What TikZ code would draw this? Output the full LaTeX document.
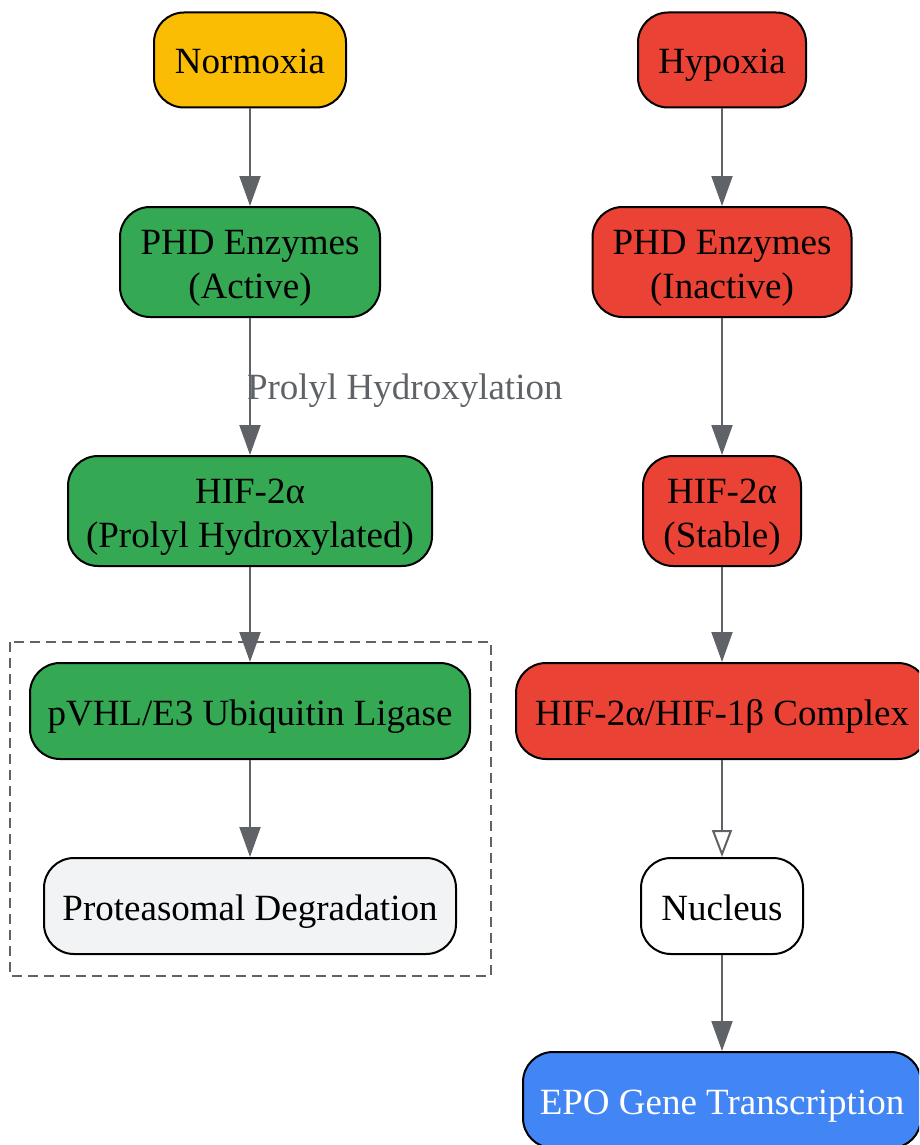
\documentclass[tikz,border=0pt]{standalone}
\usepackage{fontspec}
\setmainfont{Liberation Serif}
\usetikzlibrary{arrows.meta}
\definecolor{cyellow}{HTML}{FBBC04}
\definecolor{cgreen}{HTML}{34A853}
\definecolor{cred}{HTML}{EA4335}
\definecolor{cblue}{HTML}{4285F4}
\definecolor{clight}{HTML}{F1F3F4}
\definecolor{cline}{HTML}{5F6368}
\newcommand\sx{\rule[-8pt]{0pt}{44pt}}
\begin{document}
\begin{tikzpicture}[x=1pt,y=-1pt,
  box/.style={draw=black, line width=2pt, rounded corners=30pt, align=center,
    inner sep=0pt, font=\fontsize{37}{44}\selectfont},
  conn/.style={draw=cline, line width=2pt, -{Triangle[length=30pt,width=21pt]}},
  openconn/.style={draw=cline, line width=2pt, -{Triangle[open,length=27pt,width=20pt,line width=2pt]}},
  lbl/.style={text=cline, font=\fontsize{37}{44}\selectfont, inner sep=0pt}
]
\clip (0,0) rectangle (919,1145);
\fill[white] (0,0) rectangle (919,1145);

% dashed cluster
\draw[cline, line width=2pt, dash pattern=on 10pt off 6pt] (10,642) rectangle (491,976);

% left column
\node[box, fill=cyellow, minimum width=192pt, minimum height=95pt] (norm) at (250,60) {\sx Normoxia};
\node[box, fill=cgreen, minimum width=260pt, minimum height=110pt] (phda) at (250,262) {\sx PHD Enzymes\\\sx (Active)};
\node[box, fill=cgreen, minimum width=364pt, minimum height=110pt] (hifh) at (250,511) {\sx HIF-2α\\\sx (Prolyl Hydroxylated)};
\node[box, fill=cgreen, minimum width=440pt, minimum height=96pt] (pvhl) at (250,711) {\sx pVHL/E3 Ubiquitin Ligase};
\node[box, fill=clight, minimum width=412pt, minimum height=96pt] (prot) at (250,906) {\sx Proteasomal Degradation};

% right column
\node[box, fill=cred, minimum width=168pt, minimum height=95pt] (hyp) at (722,60) {\sx Hypoxia};
\node[box, fill=cred, minimum width=259pt, minimum height=110pt] (phdi) at (722,262) {\sx PHD Enzymes\\\sx (Inactive)};
\node[box, fill=cred, minimum width=158pt, minimum height=110pt] (hifs) at (722,511) {\sx HIF-2α\\\sx (Stable)};
\node[box, fill=cred, minimum width=412pt, minimum height=96pt] (cplx) at (722,711) {\sx HIF-2α/HIF-1β Complex};
\node[box, fill=white, minimum width=162pt, minimum height=96pt] (nuc) at (722,906) {\sx Nucleus};
\node[box, fill=cblue, text=white, minimum width=398pt, minimum height=96pt] (epo) at (722,1100) {\sx EPO Gene Transcription};

% connectors
\draw[conn] (norm) -- (phda);
\draw[conn] (phda) -- (hifh) node[midway, lbl, anchor=west, xshift=-4pt, yshift=-4pt] {Prolyl Hydroxylation};
\draw[conn] (hifh) -- (pvhl);
\draw[conn] (pvhl) -- (prot);

\draw[conn] (hyp) -- (phdi);
\draw[conn] (phdi) -- (hifs);
\draw[conn] (hifs) -- (cplx);
\draw[openconn] (cplx) -- (nuc);
\draw[conn] (nuc) -- (epo);
\end{tikzpicture}
\end{document}
